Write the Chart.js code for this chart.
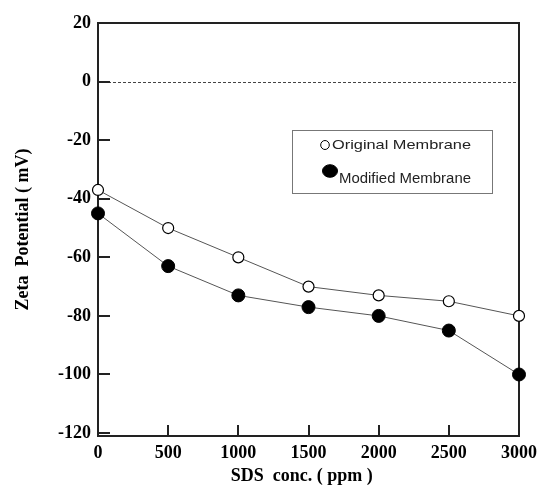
<!DOCTYPE html>
<html>
<head>
<meta charset="utf-8">
<script src="https://cdn.jsdelivr.net/npm/chart.js@4.4.1/dist/chart.umd.min.js"></script>
<style>
html,body{margin:0;padding:0;background:#fff;}
#wrap{width:541px;height:487px;position:relative;}
</style>
</head>
<body>
<div id="wrap"><canvas id="c" width="541" height="487"></canvas></div>
<script>
const concentrations = [0, 500, 1000, 1500, 2000, 2500, 3000];
const originalMembrane = [-37, -50, -60, -70, -73, -75, -80];
const modifiedMembrane = [-45, -63, -73, -77, -80, -85, -100];
const xTickValues = [0, 500, 1000, 1500, 2000, 2500, 3000];
const yTickValues = [20, 0, -20, -40, -60, -80, -100, -120];
const seriesNames = ['Original Membrane', 'Modified Membrane'];
const xTitle = 'SDS  conc. ( ppm )   ';
const yTitle = 'Zeta  Potential ( mV)';

const tickFont = {family: "'Liberation Serif','Times New Roman',serif", size: 18, weight: 'bold'};
const titleFont = {family: "'Liberation Serif','Times New Roman',serif", size: 18, weight: 'bold'};

const framePlugin = {
  id: 'frame',
  beforeDatasetsDraw(chart) {
    const {ctx, chartArea: a, scales: {x, y}} = chart;
    ctx.save();
    const y0 = y.getPixelForValue(0);
    ctx.strokeStyle = '#444';
    ctx.lineWidth = 1;
    ctx.setLineDash([3, 2]);
    ctx.beginPath();
    ctx.moveTo(a.left, Math.round(y0) + 0.5);
    ctx.lineTo(a.right, Math.round(y0) + 0.5);
    ctx.stroke();
    ctx.setLineDash([]);
    ctx.strokeStyle = '#222';
    ctx.lineWidth = 2;
    ctx.beginPath();
    yTickValues.forEach(v => {
      const py = Math.round(y.getPixelForValue(v));
      ctx.moveTo(a.left, py);
      ctx.lineTo(a.left + 12, py);
    });
    xTickValues.forEach(v => {
      const px = Math.round(x.getPixelForValue(v));
      ctx.moveTo(px, a.bottom);
      ctx.lineTo(px, a.bottom - 11);
    });
    ctx.stroke();
    ctx.strokeStyle = '#222';
    ctx.lineWidth = 2;
    ctx.strokeRect(a.left, a.top, a.right - a.left, a.bottom - a.top);
    ctx.restore();
  },
  afterDraw(chart) {
    const {ctx} = chart;
    ctx.save();
    const bx = 292, by = 130, bw = 200, bh = 63;
    ctx.strokeStyle = '#777';
    ctx.lineWidth = 1;
    ctx.strokeRect(bx + 0.5, by + 0.5, bw, bh);
    const ds = chart.data.datasets;
    const rows = [
      {cx: 325, cy: 145, rx: 4.3, ry: 4.5, tx: 332, ty: 145, w: 139, size: 13},
      {cx: 330, cy: 171, rx: 7.5, ry: 6.3, tx: 339, ty: 179, w: 132, size: 14}
    ];
    rows.forEach((r, i) => {
      const d = ds[i];
      ctx.beginPath();
      ctx.ellipse(r.cx, r.cy, r.rx, r.ry, 0, 0, Math.PI * 2);
      ctx.fillStyle = d.pointBackgroundColor;
      ctx.fill();
      ctx.lineWidth = 1;
      ctx.strokeStyle = '#000';
      ctx.stroke();
      ctx.font = r.size + "px 'Liberation Sans', Arial, sans-serif";
      ctx.fillStyle = '#222';
      ctx.textBaseline = 'middle';
      ctx.textAlign = 'left';
      const m = ctx.measureText(d.label).width;
      ctx.save();
      ctx.translate(r.tx, r.ty);
      ctx.scale(r.w / m, 1);
      ctx.fillText(d.label, 0, 0);
      ctx.restore();
    });
    ctx.restore();
  }
};

new Chart(document.getElementById('c'), {
  type: 'line',
  data: {
    datasets: [
      {
        label: seriesNames[0],
        data: concentrations.map((c, i) => ({x: c, y: originalMembrane[i]})),
        borderColor: '#555',
        borderWidth: 1,
        pointRadius: 5.5,
        pointBackgroundColor: '#fff',
        pointBorderColor: '#000',
        pointBorderWidth: 1.2,
        tension: 0,
        clip: false
      },
      {
        label: seriesNames[1],
        data: concentrations.map((c, i) => ({x: c, y: modifiedMembrane[i]})),
        borderColor: '#555',
        borderWidth: 1,
        pointRadius: 6.5,
        pointBackgroundColor: '#000',
        pointBorderColor: '#000',
        pointBorderWidth: 1,
        tension: 0,
        clip: false
      }
    ]
  },
  options: {
    responsive: false,
    animation: false,
    events: [],
    layout: {padding: {top: 23, right: 22, left: 0, bottom: 0}},
    plugins: {legend: {display: false}, tooltip: {enabled: false}},
    scales: {
      x: {
        type: 'linear',
        min: 0, max: 3000,
        afterBuildTicks: s => { s.ticks = xTickValues.map(v => ({value: v})); },
        afterFit: s => { s.height = 51; s.paddingRight = 0; s.paddingLeft = 0; },
        grid: {display: false, drawTicks: false},
        border: {display: false},
        ticks: {color: '#000', font: tickFont, padding: 7, maxRotation: 0, autoSkip: false,
                callback: v => String(v)},
        title: {display: true, text: xTitle, color: '#000', font: titleFont, padding: {top: 0, bottom: 0}}
      },
      y: {
        type: 'linear',
        min: -121, max: 20,
        afterBuildTicks: s => { s.ticks = yTickValues.map(v => ({value: v})); },
        afterFit: s => { s.width = 98; s.paddingTop = 0; s.paddingBottom = 0; },
        grid: {display: false, drawTicks: false},
        border: {display: false},
        ticks: {color: '#000', font: tickFont, padding: 7, autoSkip: false, callback: v => String(v)},
        title: {display: true, text: yTitle, color: '#000', font: titleFont, padding: {top: 13, bottom: 0}}
      }
    }
  },
  plugins: [framePlugin]
});
</script>
</body>
</html>
